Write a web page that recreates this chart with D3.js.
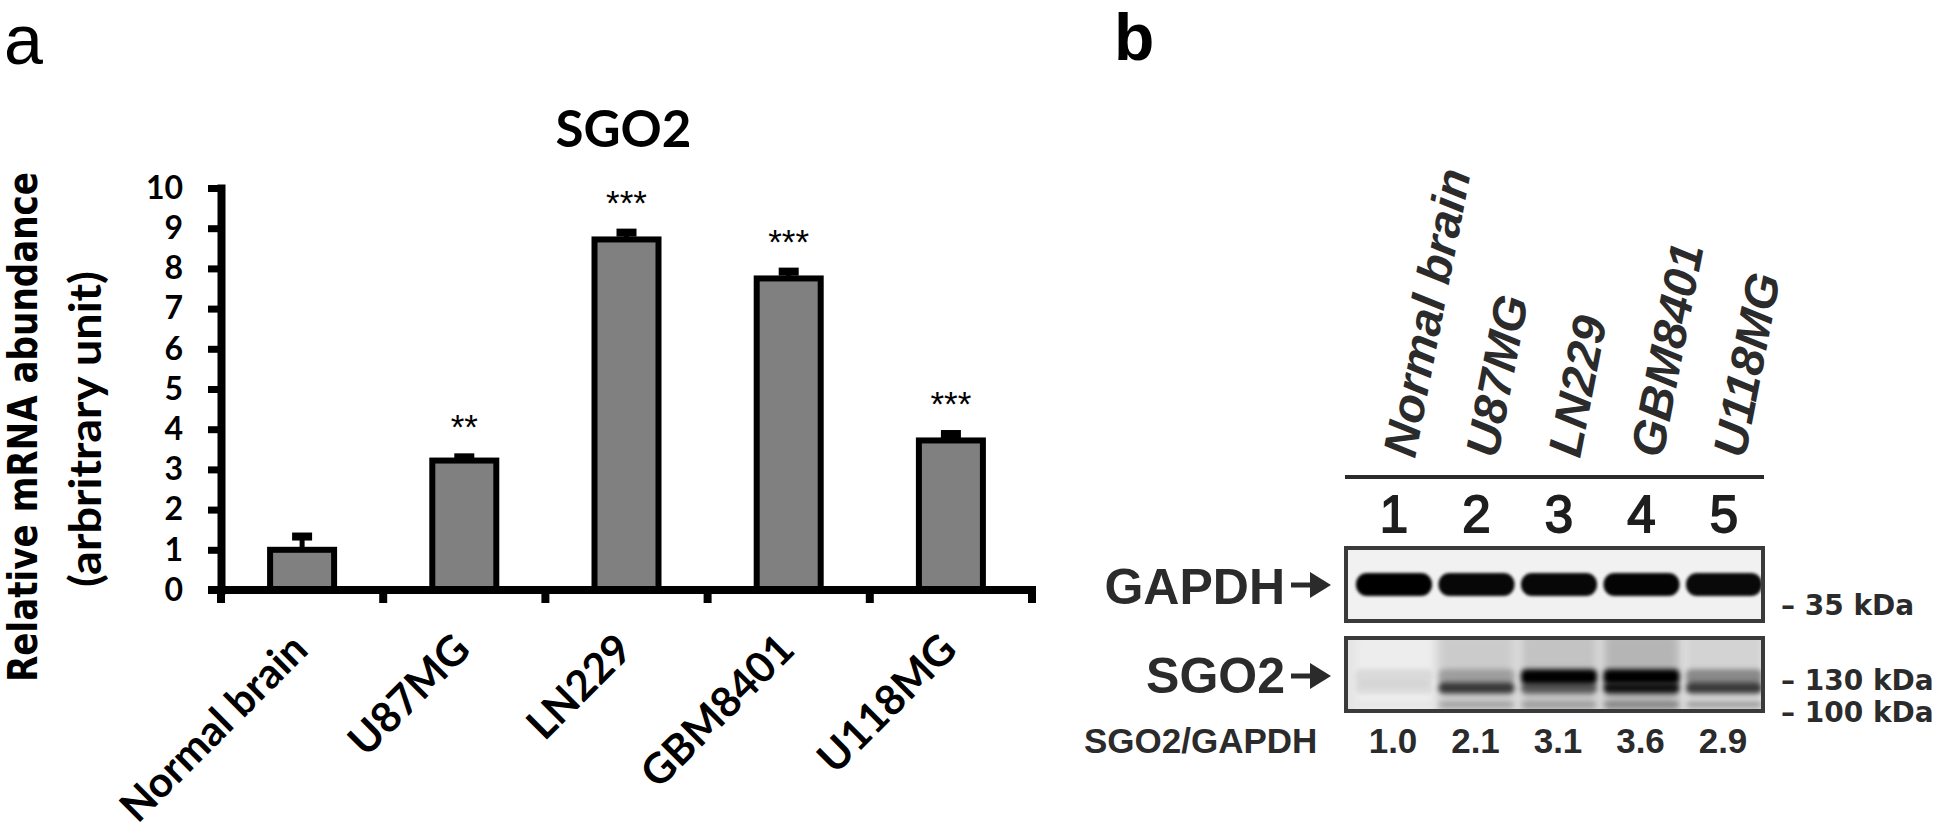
<!DOCTYPE html>
<html><head><meta charset="utf-8">
<script src="https://cdn.jsdelivr.net/npm/d3@7"></script>
<style>
html,body{margin:0;padding:0;background:#fff;}
svg{display:block;}
</style></head><body>
<svg id="chart" width="1952" height="831"></svg>
<script>
// ---------------- Panel a data ----------------
const categories = ["Normal brain", "U87MG", "LN229", "GBM8401", "U118MG"];
const meanValues = [1.0, 3.22, 8.72, 7.75, 3.72];
const errorValues = [0.33, 0.08, 0.17, 0.17, 0.16];
const significance = ["", "**", "***", "***", "***"];
const yTicks = [0, 1, 2, 3, 4, 5, 6, 7, 8, 9, 10];
const chartTitle = "SGO2";
const yTitleLine1 = "Relative mRNA abundance";
const yTitleLine2 = "(arbritrary unit)";

// ---------------- Panel b data ----------------
const laneNames = ["Normal brain", "U87MG", "LN229", "GBM8401", "U118MG"];
const laneNumbers = ["1", "2", "3", "4", "5"];
const ratioValues = [1.0, 2.1, 3.1, 3.6, 2.9];
const ratioLabel = "SGO2/GAPDH";
const gapdhIntensity = [1.0, 0.97, 0.97, 0.98, 0.96];
const sgo2Upper135 = [0.08, 0.22, 1.0, 1.0, 0.35];
const sgo2Mid122 = [0.08, 0.72, 0.55, 0.9, 0.72];
const sgo2Lower105 = [0.03, 0.22, 0.22, 0.30, 0.26];
const sgo2Smear = [0.0, 0.10, 0.14, 0.20, 0.07];
const bandKDa = [135, 122, 105];
const markerKDa = [130, 100];
const gapdhMarker = "35 kDa";

const svg = d3.select("#chart");

function fitText(sel, target) {
  const len = sel.node().getComputedTextLength();
  const fs = parseFloat(sel.style("font-size"));
  const nfs = len > 0 ? fs * target / len : fs;
  sel.style("font-size", nfs + "px");
  return nfs;
}

// ================= PANEL A =================
const gA = svg.append("g");
const x = d3.scaleBand().domain(categories).range([221, 1032]).paddingInner(0).paddingOuter(0);
const y = d3.scaleLinear().domain([0, 10]).range([590, 188]);
const bw = x.bandwidth();
const barW = 64;

// panel letter
svg.append("text").attr("x", 4).attr("y", 64)
  .style("font-family", "'Liberation Sans', Arial, sans-serif")
  .style("font-size", "70px").style("fill", "#000").text("a");

// title
const tt = gA.append("text").attr("x", (x.range()[0] + x.range()[1]) / 2 - 3).attr("y", 147)
  .attr("text-anchor", "middle")
  .style("font-family", "Lato, sans-serif").style("font-weight", 700)
  .style("font-size", "54px").style("fill", "#000").text(chartTitle);
fitText(tt, 136);

// y axis titles (condensed to match the original narrow bold faces)
gA.append("text").attr("transform", "translate(37,427) rotate(-90)")
  .attr("text-anchor", "middle")
  .attr("textLength", 510).attr("lengthAdjust", "spacingAndGlyphs")
  .style("font-family", "'DejaVu Sans', Verdana, sans-serif").style("font-weight", 700)
  .style("font-size", "40px").style("fill", "#000").text(yTitleLine1);
gA.append("text").attr("transform", "translate(101,429) rotate(-90)")
  .attr("text-anchor", "middle")
  .attr("textLength", 316).attr("lengthAdjust", "spacingAndGlyphs")
  .style("font-family", "Lato, sans-serif").style("font-weight", 700)
  .style("font-size", "43px").style("fill", "#000").text(yTitleLine2);

// bars
gA.selectAll("rect.bar").data(categories).join("rect").attr("class", "bar")
  .attr("x", d => x(d) + bw / 2 - barW / 2)
  .attr("width", barW)
  .attr("y", (d, i) => y(meanValues[i]))
  .attr("height", (d, i) => y(0) - y(meanValues[i]))
  .attr("fill", "#808080").attr("stroke", "#000").attr("stroke-width", 6);

// error bars (upper only)
gA.selectAll("line.err").data(categories).join("line").attr("class", "err")
  .attr("x1", d => x(d) + bw / 2).attr("x2", d => x(d) + bw / 2)
  .attr("y1", (d, i) => y(meanValues[i]))
  .attr("y2", (d, i) => y(meanValues[i] + errorValues[i]))
  .attr("stroke", "#000").attr("stroke-width", 5);
gA.selectAll("rect.cap").data(categories).join("rect").attr("class", "cap")
  .attr("x", d => x(d) + bw / 2 - 10).attr("width", 20)
  .attr("y", (d, i) => y(meanValues[i] + errorValues[i]) - 4).attr("height", 8)
  .attr("fill", "#000");

// significance stars
gA.selectAll("text.sig").data(categories).join("text").attr("class", "sig")
  .attr("x", d => x(d) + bw / 2)
  .attr("y", (d, i) => y(meanValues[i] + errorValues[i]) - 37 + 19)
  .attr("text-anchor", "middle")
  .style("font-family", "'Liberation Sans', Arial, sans-serif")
  .style("font-size", "35px").style("fill", "#000")
  .text((d, i) => significance[i]);

// y axis
const yAxis = d3.axisLeft(y).tickValues(yTicks).tickSize(13).tickPadding(25).tickSizeOuter(0);
const gy = gA.append("g").attr("transform", `translate(${x.range()[0]},0)`).call(yAxis);
gy.select(".domain").attr("stroke", "#000").attr("stroke-width", 8).attr("stroke-linecap", "square");
gy.selectAll(".tick line").attr("stroke", "#000").attr("stroke-width", 7);
gy.selectAll(".tick text")
  .style("font-family", "Lato, sans-serif").style("font-weight", 700)
  .style("font-size", "32px").attr("fill", "#000");

// x axis line and boundary ticks
const xr = x.range();
gA.append("line").attr("x1", xr[0] - 13).attr("x2", xr[1] + 4)
  .attr("y1", y(0)).attr("y2", y(0)).attr("stroke", "#000").attr("stroke-width", 8);
const boundaries = categories.map(c => x(c)).concat([xr[1]]);
gA.selectAll("line.xtick").data(boundaries).join("line").attr("class", "xtick")
  .attr("x1", d => d).attr("x2", d => d)
  .attr("y1", y(0)).attr("y2", y(0) + 13)
  .attr("stroke", "#000").attr("stroke-width", 8);

// x labels
const xl = gA.selectAll("text.xlab").data(categories).join("text").attr("class", "xlab")
  .attr("transform", d => `translate(${x(d) + bw / 2 + 8},${y(0) + 62}) rotate(-45)`)
  .attr("text-anchor", "end")
  .style("font-family", "Lato, sans-serif").style("font-weight", 700)
  .style("font-size", "41px").style("fill", "#000").text(d => d);
const xfs = fitText(d3.select(xl.nodes()[0]), 244);
xl.style("font-size", xfs + "px");

// ================= PANEL B =================
const gB = svg.append("g");
const ink = "#2b2b2b";
const lane = d3.scalePoint().domain(laneNames).range([1394, 1724]);

svg.append("text").attr("x", 1114).attr("y", 60)
  .style("font-family", "'Liberation Sans', Arial, sans-serif").style("font-weight", 700)
  .style("font-size", "66px").style("fill", "#000").text("b");

// lane names
const ll = gB.selectAll("text.lane").data(laneNames).join("text").attr("class", "lane")
  .attr("transform", d => `translate(${lane(d) + 21},459) rotate(-79)`)
  .attr("text-anchor", "start")
  .style("font-family", "'Liberation Sans', Arial, sans-serif").style("font-weight", 700)
  .style("font-style", "italic").style("font-size", "47px").style("fill", ink)
  .text(d => d);
const lfs = fitText(d3.select(ll.nodes()[0]), 292);
ll.style("font-size", lfs + "px");

// separator line
gB.append("line").attr("x1", 1345).attr("x2", 1764).attr("y1", 477).attr("y2", 477)
  .attr("stroke", ink).attr("stroke-width", 4);

// lane numbers
gB.selectAll("text.num").data(laneNames).join("text").attr("class", "num")
  .attr("x", d => lane(d)).attr("y", 532).attr("text-anchor", "middle")
  .style("font-family", "'Liberation Sans', Arial, sans-serif")
  .style("font-size", "51px").style("fill", "#1e1e1e")
  .style("stroke", "#1e1e1e").style("stroke-width", 1.8)
  .text((d, i) => laneNumbers[i]);

// filters
const defs = svg.append("defs");
defs.append("filter").attr("id", "blurG").attr("x", "-20%").attr("y", "-50%").attr("width", "140%").attr("height", "200%")
  .append("feGaussianBlur").attr("stdDeviation", "1.6 1.4");
defs.append("filter").attr("id", "blurS").attr("x", "-20%").attr("y", "-100%").attr("width", "140%").attr("height", "300%")
  .append("feGaussianBlur").attr("stdDeviation", "2.5 2.5");
defs.append("filter").attr("id", "blurSm").attr("x", "-20%").attr("y", "-20%").attr("width", "140%").attr("height", "140%")
  .append("feGaussianBlur").attr("stdDeviation", "4 6");
const clipG = defs.append("clipPath").attr("id", "clipG");
clipG.append("rect").attr("x", 1346).attr("y", 548).attr("width", 417).attr("height", 73);
const clipS = defs.append("clipPath").attr("id", "clipS");
clipS.append("rect").attr("x", 1346).attr("y", 638).attr("width", 417).attr("height", 73);

// GAPDH blot
const bandW = 76;
gB.append("rect").attr("x", 1346).attr("y", 548).attr("width", 417).attr("height", 73)
  .attr("fill", "#f1f1f1");
gB.append("g").attr("clip-path", "url(#clipG)").selectAll("rect").data(laneNames).join("rect")
  .attr("x", d => lane(d) - bandW / 2).attr("width", bandW)
  .attr("y", 573).attr("height", 23).attr("rx", 11)
  .attr("fill", "#000").attr("opacity", (d, i) => gapdhIntensity[i])
  .attr("filter", "url(#blurG)");
gB.append("rect").attr("x", 1346).attr("y", 548).attr("width", 417).attr("height", 73)
  .attr("fill", "none").attr("stroke", "#3a3a3a").attr("stroke-width", 4);

// SGO2 blot
const kda = d3.scaleLog().domain([100, 130]).range([710, 681]);
gB.append("rect").attr("x", 1346).attr("y", 638).attr("width", 417).attr("height", 73)
  .attr("fill", "#e4e4e4");
const gS = gB.append("g").attr("clip-path", "url(#clipS)");
gS.selectAll("rect.lanebg").data(laneNames).join("rect").attr("class", "lanebg")
  .attr("x", d => lane(d) - 38).attr("width", 76).attr("y", 630).attr("height", 90)
  .attr("fill", (d, i) => i === 0 ? "#f0f0f0" : "#000")
  .attr("opacity", (d, i) => i === 0 ? 0.8 : sgo2Smear[i])
  .attr("filter", "url(#blurSm)");
const bandSets = [sgo2Upper135, sgo2Mid122, sgo2Lower105];
const bandH = [15, 11, 5];
bandSets.forEach((vals, k) => {
  gS.selectAll(`rect.b${k}`).data(laneNames).join("rect").attr("class", `b${k}`)
    .attr("x", d => lane(d) - bandW / 2).attr("width", bandW)
    .attr("y", kda(bandKDa[k]) - bandH[k] / 2).attr("height", bandH[k]).attr("rx", 5)
    .attr("fill", "#000").attr("opacity", (d, i) => vals[i])
    .attr("filter", "url(#blurS)");
});
gB.append("rect").attr("x", 1346).attr("y", 638).attr("width", 417).attr("height", 73)
  .attr("fill", "none").attr("stroke", "#3a3a3a").attr("stroke-width", 4);

// protein labels with arrows
const protLabels = [{t: "GAPDH", yc: 585, base: 604}, {t: "SGO2", yc: 676, base: 693}];
gB.selectAll("text.prot").data(protLabels).join("text").attr("class", "prot")
  .attr("x", 1285).attr("y", d => d.base).attr("text-anchor", "end")
  .style("font-family", "'Liberation Sans', Arial, sans-serif").style("font-weight", 700)
  .style("font-size", "50px").style("fill", ink).text(d => d.t);
gB.selectAll("line.arr").data(protLabels).join("line").attr("class", "arr")
  .attr("x1", 1291).attr("x2", 1313).attr("y1", d => d.yc).attr("y2", d => d.yc)
  .attr("stroke", ink).attr("stroke-width", 5);
gB.selectAll("path.arrh").data(protLabels).join("path").attr("class", "arrh")
  .attr("d", d => `M1310,${d.yc - 13}L1331,${d.yc}L1310,${d.yc + 13}Z`).attr("fill", ink);

// kDa markers
const mk = gB.append("g")
  .style("font-family", "'DejaVu Sans', Verdana, sans-serif").style("font-weight", 700)
  .style("font-size", "28px").style("fill", ink);
mk.append("text").attr("x", 1781).attr("y", 615).text("\u2013 " + gapdhMarker);
mk.selectAll("text.mk").data(markerKDa).join("text").attr("class", "mk")
  .attr("x", 1781).attr("y", (d, i) => kda(d) + 10 + (i === 0 ? -1 : 2)).text(d => "\u2013 " + d + " kDa");

// ratio row
gB.append("text").attr("x", 1084).attr("y", 753)
  .style("font-family", "'Liberation Sans', Arial, sans-serif").style("font-weight", 700)
  .style("font-size", "35px").style("fill", ink).text(ratioLabel);
gB.selectAll("text.ratio").data(laneNames).join("text").attr("class", "ratio")
  .attr("x", d => lane(d) - 1).attr("y", 753).attr("text-anchor", "middle")
  .style("font-family", "'Liberation Sans', Arial, sans-serif").style("font-weight", 700)
  .style("font-size", "35px").style("fill", ink)
  .text((d, i) => d3.format(".1f")(ratioValues[i]));
</script>
</body></html>
